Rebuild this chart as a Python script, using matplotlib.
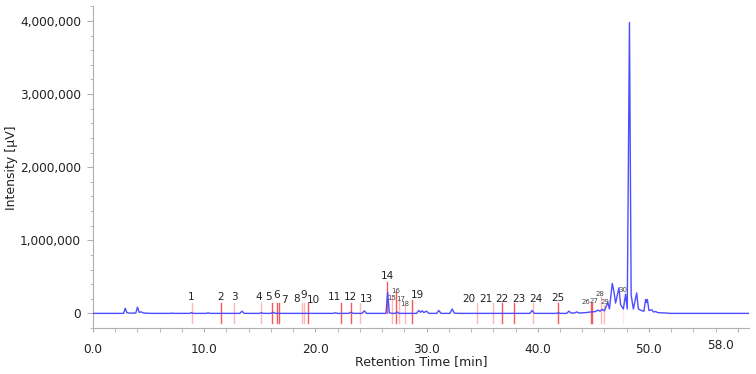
import matplotlib.pyplot as plt
from matplotlib.ticker import FuncFormatter, MultipleLocator

# chromatogram trace (retention time [min], intensity [uV])
trace_t = [0.0, 2.75, 2.9, 3.05, 3.3, 3.85, 4.0, 4.15, 4.35, 4.55, 5.2,
           7.0, 7.1, 7.2, 8.7, 8.85, 9.0, 10.2, 10.35, 10.5,
           13.2, 13.4, 13.6, 15.0, 15.15, 15.3, 16.0, 16.2, 16.4,
           21.6, 21.8, 22.0, 23.0, 23.2, 23.4, 24.2, 24.4, 24.6,
           26.35, 26.5, 26.65, 26.85, 27.2, 27.35, 27.5,
           29.1, 29.3, 29.45, 29.6, 29.75, 30.0, 30.2,
           30.9, 31.1, 31.3, 32.1, 32.3, 32.5, 32.8,
           39.3, 39.5, 39.7, 41.7, 41.85, 42.0,
           42.6, 42.8, 43.0, 43.3, 43.5, 43.7,
           44.3, 44.8, 45.2, 45.4, 45.6, 45.8, 46.0, 46.3, 46.45,
           46.7, 46.85, 47.0, 47.3, 47.45, 47.7, 47.9, 48.05,
           48.25, 48.4, 48.6, 48.9, 49.05, 49.3, 49.55,
           49.7, 49.78, 49.86, 50.0, 50.25, 50.4, 50.6, 50.8,
           51.5, 52.0, 59.0]
trace_uv = [0, 0, 70000, 10000, 3000, 5000, 85000, 15000, 20000, 5000, 0,
            0, 5000, 0, 0, 10000, 0, 0, 8000, 0,
            0, 30000, 0, 0, 10000, 0, 0, 15000, 0,
            0, 8000, 0, 0, 15000, 0, 0, 35000, 0,
            0, 290000, 10000, 0, 0, 20000, 0,
            0, 40000, 15000, 35000, 12000, 30000, 0,
            0, 40000, 0, 0, 60000, 5000, 0,
            0, 40000, 0, 0, 10000, 0,
            0, 30000, 5000, 5000, 20000, 5000,
            10000, 20000, 25000, 45000, 30000, 55000, 35000, 150000, 60000,
            410000, 300000, 140000, 350000, 120000, 60000, 260000, 60000,
            3980000, 250000, 60000, 280000, 60000, 40000, 30000,
            190000, 150000, 190000, 40000, 50000, 20000, 25000, 10000,
            5000, 0, 0]

# integrated peak markers
peak_no = list(range(1, 31))
peak_t = [8.88, 11.51, 12.72, 15.08, 16.12, 16.52, 16.75, 18.77, 19.0, 19.36,
          22.33, 23.16, 23.97, 26.47, 26.86, 27.22, 27.52, 28.08, 28.69,
          34.51, 36.0, 36.75, 37.89, 39.54, 41.84, 44.76, 44.92, 45.68, 45.98, 47.69]
marker_top = [137000] * 13 + [425000, 233000, 290000, 180000, 100000, 180000] \
    + [137000] * 6 + [137000, 137000, 220000, 120000, 270000]
marker_bot = [-135000] * 13 + [0] + [-135000] * 16
strong = [0, 1, 0, 0, 1, 1, 1, 0, 0, 1,
          1, 1, 0, 1, 0, 1, 0, 0, 1,
          0, 0, 1, 1, 0, 1, 1, 1, 0, 0, 2]

# label anchor points (min, uV)
label_t = [8.86, 11.51, 12.7, 14.93, 15.77, 16.52, 17.18, 18.32, 18.91, 19.81,
           21.67, 23.11, 24.55, 26.44, 26.89, 27.25, 27.7, 28.06, 29.14,
           33.81, 35.34, 36.78, 38.31, 39.84, 41.82, 44.33, 45.05, 45.59, 46.04, 47.66]
label_uv = [223000, 223000, 219000, 219000, 223000, 247000, 178000, 196000, 247000, 178000,
            219000, 219000, 192000, 507000, 215000, 305000, 201000, 123000, 256000,
            201000, 201000, 201000, 201000, 201000, 215000, 155000, 168000, 260000, 155000, 325000]
small = [15, 16, 17, 18, 26, 27, 28, 29, 30]

fig = plt.figure(figsize=(7.56, 3.74), dpi=100)
ax = fig.add_axes([93 / 756, 1 - 328 / 374, (749 - 93) / 756, (328 - 6.4) / 374])

line_colors = {0: "#ffb8b8", 1: "#f55a5a", 2: "#ffe8e8"}
for i in range(len(peak_no)):
    ax.plot([peak_t[i], peak_t[i]], [marker_bot[i], marker_top[i]],
            color=line_colors[strong[i]], lw=1.0, zorder=2)

ax.plot(trace_t, trace_uv, color="#4d4dff", lw=1.0, zorder=3)

for i, n in enumerate(peak_no):
    if n in small:
        ax.text(label_t[i], label_uv[i], str(n), fontsize=5, color="#444444",
                ha="center", va="center", zorder=4)
    else:
        ax.text(label_t[i], label_uv[i], str(n), fontsize=7.5, color="#222222",
                ha="center", va="center", zorder=4)

ax.set_xlim(0, 59)
ax.set_ylim(-200000, 4200000)

ax.xaxis.set_minor_locator(MultipleLocator(2))
ax.set_xticks([0, 10, 20, 30, 40, 50, 58], ["0.0", "10.0", "20.0", "30.0", "40.0", "50.0", ""])
ax.set_yticks([0, 1000000, 2000000, 3000000, 4000000])
ax.yaxis.set_minor_locator(MultipleLocator(200000))
ax.yaxis.set_major_formatter(FuncFormatter(lambda v, p: f"{int(v):,}"))

for s in ["top", "right"]:
    ax.spines[s].set_visible(False)
for s in ["left", "bottom"]:
    ax.spines[s].set_color("#b0b0b0")
    ax.spines[s].set_linewidth(0.8)

ax.tick_params(axis="x", which="both", length=3, color="#b0b0b0", labelsize=8.7,
               labelcolor="#222222", pad=8)
ax.tick_params(axis="y", which="major", length=4.3, color="#b0b0b0", labelsize=8.7,
               labelcolor="#222222", pad=4.3)
ax.tick_params(axis="y", which="minor", length=2.2, color="#b0b0b0")

# last tick label sits left of and a little above its tick in the original
ax.text(56.4, -0.053, "58.0", transform=ax.get_xaxis_transform(), fontsize=8.7,
        color="#222222", ha="center", va="center")

fig.text(421 / 756, 1 - 362 / 374, "Retention Time [min]", fontsize=9, color="#222222",
         ha="center", va="center")
fig.text(12 / 756, 1 - 168 / 374, "Intensity [µV]", fontsize=9, color="#222222",
         ha="center", va="center", rotation=90)

fig.savefig("out.png", dpi=100)
